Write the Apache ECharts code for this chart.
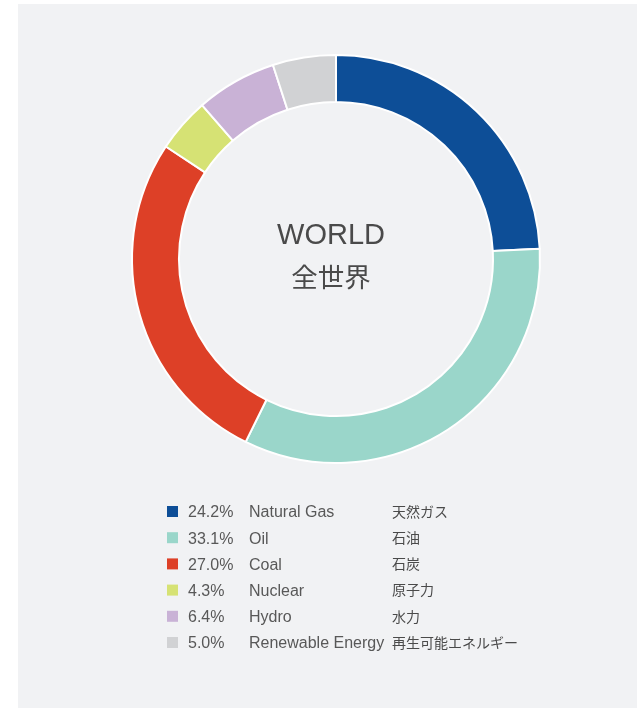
<!DOCTYPE html>
<html>
<head>
<meta charset="utf-8">
<script src="https://cdn.jsdelivr.net/npm/echarts@6/dist/echarts.min.js"></script>
<style>
html,body{margin:0;padding:0;background:#fff;}
#c{width:637px;height:708px;}
</style>
</head>
<body>
<div id="c"></div>
<script>
const categories = ['Natural Gas', 'Oil', 'Coal', 'Nuclear', 'Hydro', 'Renewable Energy'];
const categoriesJa = ['天然ガス', '石油', '石炭', '原子力', '水力', '再生可能エネルギー'];
const values = [24.2, 33.1, 27.0, 4.3, 6.4, 5.0];
const colors = ['#0d4e97', '#9ad6ca', '#dd4027', '#d6e274', '#c9b2d6', '#d1d2d4'];
const centerTitle = 'WORLD';
const centerTitleJa = '全世界';

const latin = "'Liberation Sans', 'Open Sans', sans-serif";
const cjk = "'Noto Sans CJK JP', sans-serif";

const data = categories.map((n, i) => ({ name: n, value: values[i], itemStyle: { color: colors[i] } }));

const chart = echarts.init(document.getElementById('c'), null, { renderer: 'canvas' });
chart.setOption({
  backgroundColor: '#ffffff',
  animation: false,
  graphic: [
    { type: 'rect', z: -10, shape: { x: 18, y: 4, width: 619, height: 704 }, style: { fill: '#f1f2f4' } },
    { type: 'text', z: 10, x: 331, y: 236, style: { text: centerTitle, fill: '#4a4a4a', font: "300 29px " + latin, textAlign: 'center', textVerticalAlign: 'middle' } },
    { type: 'text', z: 10, x: 331, y: 277, style: { text: centerTitleJa, fill: '#4a4a4a', font: "400 26.5px " + cjk, textAlign: 'center', textVerticalAlign: 'middle' } }
  ],
  legend: {
    orient: 'vertical',
    left: 167,
    top: 502,
    padding: 0,
    itemWidth: 11,
    itemHeight: 11,
    itemGap: 7.2,
    icon: 'rect',
    itemStyle: { borderWidth: 0 },
    selectedMode: false,
    data: categories,
    formatter: function (name) {
      const i = categories.indexOf(name);
      return '{p|' + values[i].toFixed(1) + '%}{n|' + name + '}{j|' + categoriesJa[i] + '}';
    },
    textStyle: {
      color: '#585858',
      fontSize: 16,
      lineHeight: 18,
      rich: {
        p: { width: 61, padding: [3, 0, 0, 5], fontSize: 16, fontFamily: latin, color: '#585858', lineHeight: 18, verticalAlign: 'middle' },
        n: { width: 143, padding: [3, 0, 0, 0], fontSize: 16, fontFamily: latin, color: '#585858', lineHeight: 18, verticalAlign: 'middle' },
        j: { fontSize: 14, fontFamily: cjk, color: '#4a4a4a', lineHeight: 18, verticalAlign: 'middle' }
      }
    }
  },
  series: [{
    type: 'pie',
    center: [336, 259],
    radius: [157, 204],
    startAngle: 90,
    clockwise: true,
    label: { show: false },
    labelLine: { show: false },
    emphasis: { disabled: true },
    itemStyle: { borderColor: '#ffffff', borderWidth: 2 },
    data: data
  }]
});
</script>
</body>
</html>
